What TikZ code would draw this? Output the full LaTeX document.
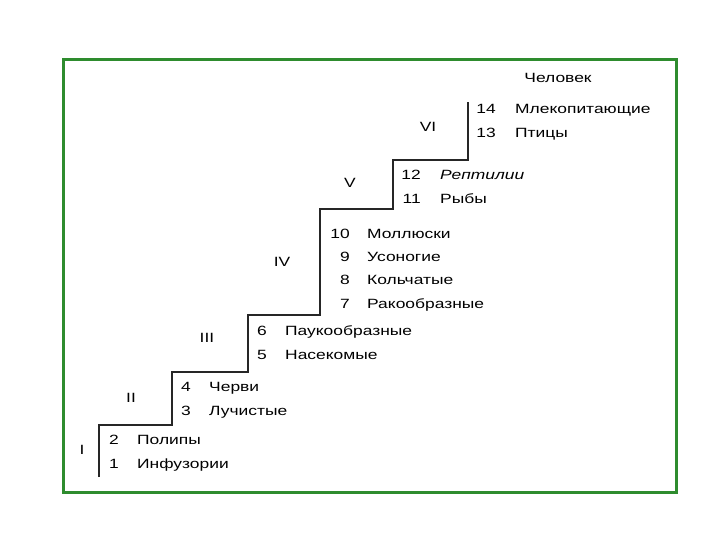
\documentclass[tikz,border=0pt]{standalone}
\usepackage{fontspec}
\setmainfont{Liberation Sans}[FakeStretch=1.3]
\usetikzlibrary{positioning}
\definecolor{framegreen}{RGB}{46,140,46}
\tikzstyle{frame} = [
    draw=framegreen,
    line width=3pt
]
\tikzstyle{stair} = [
    draw=black!85,
    line width=1.6pt
]
\tikzstyle{num} = [
    anchor=east,
    inner sep=0pt,
    text height=9.5pt,
    text depth=0pt,
    font=\fontsize{13.4}{15}\selectfont
]
\tikzstyle{animal} = [
    anchor=west,
    inner sep=0pt,
    text height=9.5pt,
    text depth=0pt,
    font=\fontsize{13.4}{15}\selectfont
]
\tikzstyle{level} = [
    inner sep=0pt,
    font=\fontsize{13.4}{15}\selectfont
]

\begin{document}
\begin{tikzpicture}[x=1pt, y=-1pt]

\useasboundingbox (0,0) rectangle (720,540);
\draw [frame] (63,60) rectangle (676,492);

% staircase
\draw [stair] (99,477) |- (172,425) |- (248,372) |- (320,315)
    |- (393,209) |- (468,160) -- (468,102);

% levels
\node (l1) [level] at (82,450) {I};
\node (l2) [level] at (131,398) {II};
\node (l3) [level] at (207,338) {III};
\node (l4) [level] at (282,262) {IV};
\node (l5) [level] at (350,183) {V};
\node (l6) [level] at (428,127) {VI};

% step I
\node (n2) [num] at (119,440) {2};
\node (a2) [animal] at (137,440) {Полипы};
\node (n1) [num] at (119,464) {1};
\node (a1) [animal] at (137,464) {Инфузории};

% step II
\node (n4) [num] at (191,387) {4};
\node (a4) [animal] at (209,387) {Черви};
\node (n3) [num] at (191,411) {3};
\node (a3) [animal] at (209,411) {Лучистые};

% step III
\node (n6) [num] at (267,331) {6};
\node (a6) [animal] at (285,331) {Паукообразные};
\node (n5) [num] at (267,355) {5};
\node (a5) [animal] at (285,355) {Насекомые};

% step IV
\node (n10) [num] at (350,234) {10};
\node (a10) [animal] at (367,234) {Моллюски};
\node (n9) [num] at (350,257) {9};
\node (a9) [animal] at (367,257) {Усоногие};
\node (n8) [num] at (350,280) {8};
\node (a8) [animal] at (367,280) {Кольчатые};
\node (n7) [num] at (350,304) {7};
\node (a7) [animal] at (367,304) {Ракообразные};

% step V
\node (n12) [num] at (421,175) {12};
\node (a12) [animal] at (440,175) {\itshape Рептилии};
\node (n11) [num] at (421,199) {11};
\node (a11) [animal] at (440,199) {Рыбы};

% step VI
\node (n14) [num] at (496,109) {14};
\node (a14) [animal] at (515,109) {Млекопитающие};
\node (n13) [num] at (496,133) {13};
\node (a13) [animal] at (515,133) {Птицы};

\node (man) [level] at (558,78) {Человек};

\end{tikzpicture}
\end{document}
